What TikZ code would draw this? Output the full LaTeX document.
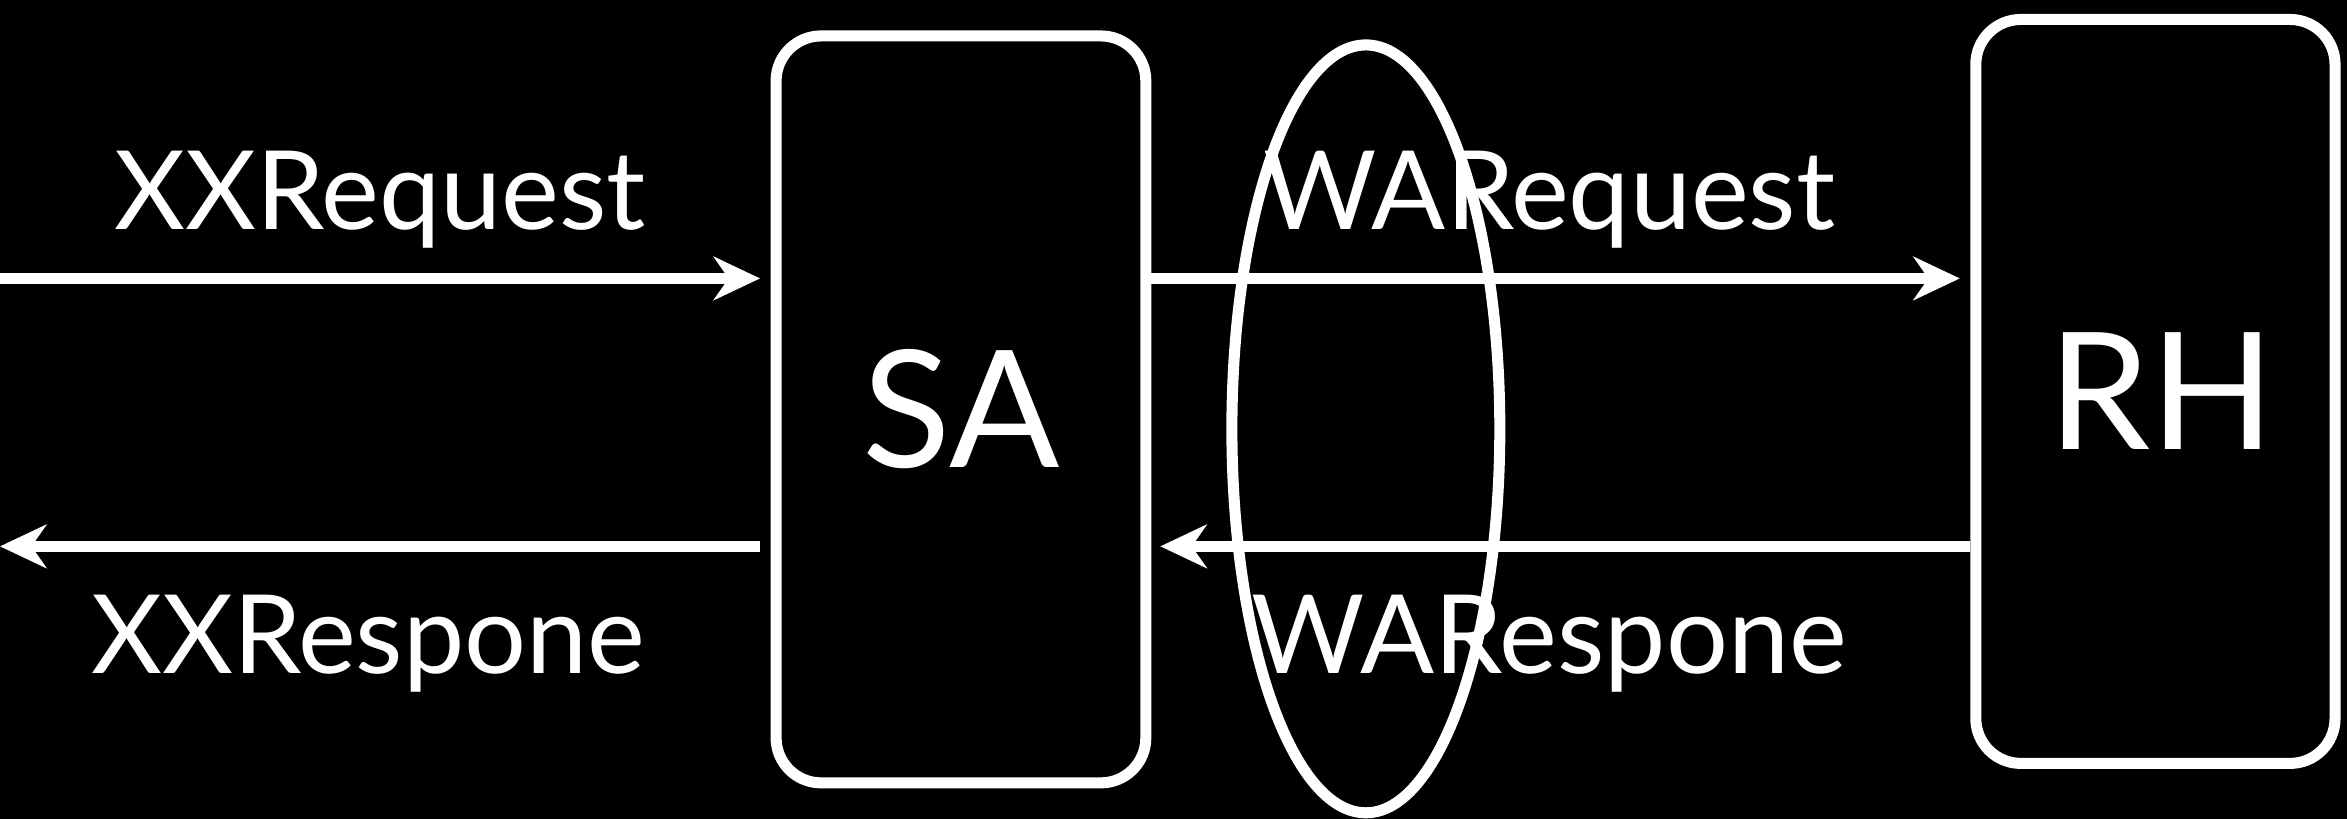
\documentclass[tikz,border=0pt]{standalone}
\usepackage{fontspec}
\setmainfont{Lato}
\usetikzlibrary{arrows.meta,shapes.geometric}

\begin{document}
\begin{tikzpicture}[line width=2.1pt, white, >={Stealth[length=3.1mm, width=2.9mm, inset=1mm]}]

    % Define styles
    \tikzstyle{box} = [draw, rounded corners=0.3cm, minimum width=2.47cm, minimum height=4.99cm, font=\fontsize{31}{31}\selectfont]
    \tikzstyle{msg} = [anchor=base, font=\fontsize{20.8}{21}\selectfont]

    % BACKGROUND
    \fill[black] (0,0) rectangle (15.68,5.47);
    \useasboundingbox (0,0) rectangle (15.68,5.47);

    % BOXES
    \node (sa) [box] at (6.42,2.735) {SA};
    \node (rh) [box, minimum width=2.40cm, minimum height=4.97cm] at (14.40,2.855) {\hspace*{0.08cm}RH};
    \node (wa) [draw, ellipse, inner sep=0pt, minimum width=1.79cm, minimum height=5.13cm] at (9.125,2.605) {};

    % LABELS
    \node (xx_req) [msg] at (2.54,3.94) {XXRequest};
    \node (xx_resp) [msg] at (2.46,0.97) {XXRespone};
    \node (wa_req) [msg] at (10.35,3.94) {WARequest};
    \node (wa_resp) [msg] at (10.35,0.97) {WARespone};

    % CONNECTIONS
    \coordinate (req_in) at (0,3.61);
    \coordinate (resp_out) at (0,1.82);
    \draw[->, shorten >=0.07cm] (req_in) -- (req_in -| sa.west);
    \draw[->, shorten >=0.07cm] (sa.east |- req_in) -- (req_in -| rh.west);
    \draw[->, shorten >=0.06cm] (rh.west |- resp_out) -- (resp_out -| sa.east);
    \draw[->, shorten <=0.07cm] (sa.west |- resp_out) -- (resp_out);

\end{tikzpicture}
\end{document}
